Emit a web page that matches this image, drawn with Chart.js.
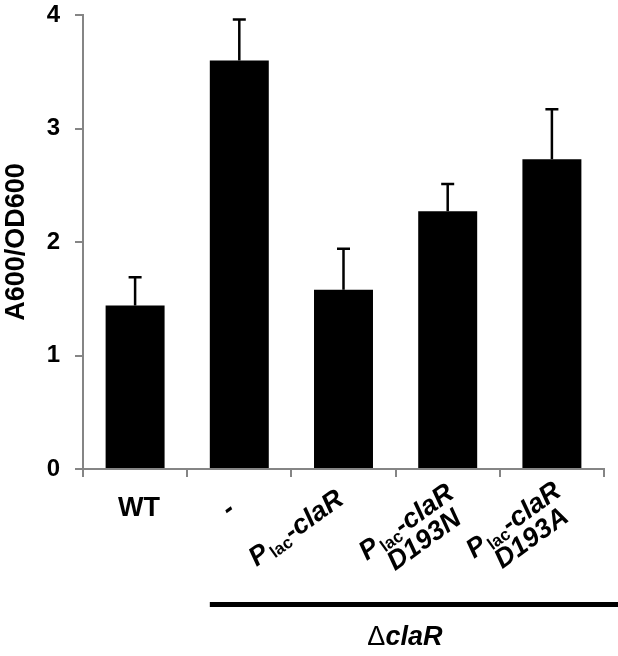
<!DOCTYPE html>
<html>
<head>
<meta charset="utf-8">
<script src="https://cdn.jsdelivr.net/npm/chart.js@4.4.1/dist/chart.umd.min.js"></script>
<style>
  html, body { margin: 0; padding: 0; background: #fff; }
  canvas { display: block; }
</style>
</head>
<body>
<canvas id="chart" width="618" height="656"></canvas>
<script>
// Data
const CATEGORIES = ["WT", "-", "Plac-claR", "Plac-claR D193N", "Plac-claR D193A"];
const MEANS = [1.44, 3.6, 1.58, 2.27, 2.73];
const ERRORS = [0.25, 0.36, 0.36, 0.24, 0.44];
const Y_TICKS = [0, 1, 2, 3, 4];
const Y_TITLE = "A600/OD600";
const GROUP_LABEL = "claR";
const GROUP_FIRST = 1; // first category under the group bar

// Styles
const FONT = "'Liberation Sans', Arial, sans-serif";
const AXIS_GRAY = "#858585";
const LABEL_SIZE = 27;
const ANGLE = (36 * Math.PI) / 180;

// where each label starts (left end of first line, on the baseline), relative to the category centre
const LABEL_ANCHORS = [
  { dx: 4, y: 516, rotate: false },
  { dx: -10, y: 518, rotate: true },
  { dx: -87, y: 567, rotate: true },
  { dx: -81, y: 561, rotate: true },
  { dx: -78, y: 559, rotate: true },
];

function fontFor(seg) {
  if (seg.sub) return `bold 17px ${FONT}`;
  if (seg.plain) return `${LABEL_SIZE}px ${FONT}`;
  return `${seg.italic ? "italic " : ""}bold ${LABEL_SIZE}px ${FONT}`;
}

function segmentsFor(line, italic) {
  if (line.startsWith("Plac")) {
    return [
      { text: "P", italic: true },
      { text: "lac", sub: true },
      { text: line.slice(4), italic: true },
    ];
  }
  return [{ text: line, italic }];
}

function measureSegs(ctx, segs) {
  return segs.reduce((w, s) => {
    ctx.font = fontFor(s);
    return w + ctx.measureText(s.text).width + (s.sub ? 2 : 0);
  }, 0);
}

function drawSegs(ctx, segs, x, y) {
  segs.forEach((s) => {
    ctx.font = fontFor(s);
    ctx.fillText(s.text, s.sub ? x + 2 : x, s.sub ? y + 4 : y);
    x += ctx.measureText(s.text).width + (s.sub ? 2 : 0);
  });
}

const errorBarsPlugin = {
  id: "errorBars",
  afterDatasetsDraw(chart) {
    const { ctx } = chart;
    const yScale = chart.scales.y;
    const meta = chart.getDatasetMeta(0);
    ctx.save();
    ctx.strokeStyle = "#000";
    ctx.lineWidth = 2.5;
    meta.data.forEach((bar, i) => {
      const top = yScale.getPixelForValue(MEANS[i] + ERRORS[i]);
      ctx.beginPath();
      ctx.moveTo(bar.x, bar.y);
      ctx.lineTo(bar.x, top);
      ctx.moveTo(bar.x - 6.5, top);
      ctx.lineTo(bar.x + 6.5, top);
      ctx.stroke();
    });
    ctx.restore();
  },
};

const labelsPlugin = {
  id: "richLabels",
  afterDraw(chart) {
    const { ctx } = chart;
    const xScale = chart.scales.x;
    ctx.save();
    ctx.fillStyle = "#000";
    ctx.textBaseline = "alphabetic";
    ctx.textAlign = "left";

    CATEGORIES.forEach((label, i) => {
      const cx = xScale.getPixelForValue(i);
      const a = LABEL_ANCHORS[i];
      if (!a.rotate) {
        const segs = segmentsFor(label, false);
        const w = measureSegs(ctx, segs);
        drawSegs(ctx, segs, cx + a.dx - w / 2, a.y);
        return;
      }
      const lines = label.split(" ");
      const first = segmentsFor(lines[0], true);
      const w1 = measureSegs(ctx, first);
      ctx.save();
      ctx.translate(cx + a.dx, a.y);
      ctx.rotate(-ANGLE);
      drawSegs(ctx, first, 0, 0);
      if (lines[1]) {
        const second = segmentsFor(lines[1], true);
        const w2 = measureSegs(ctx, second);
        drawSegs(ctx, second, (w1 - w2) / 2 + 4, 25);
      }
      ctx.restore();
    });

    // group bar + label
    const meta = chart.getDatasetMeta(0);
    const firstBar = meta.data[GROUP_FIRST];
    const x0 = firstBar.x - firstBar.width / 2;
    const x1 = chart.width;
    ctx.fillRect(x0, 602, x1 - x0, 5);

    const segs = [
      { text: "\u0394", plain: true },
      { text: GROUP_LABEL, italic: true },
    ];
    const w = measureSegs(ctx, segs);
    drawSegs(ctx, segs, (x0 + x1) / 2 - 9 - w / 2, 645);
    ctx.restore();
  },
};

const chart = new Chart(document.getElementById("chart"), {
  type: "bar",
  data: {
    labels: CATEGORIES,
    datasets: [
      {
        data: MEANS,
        backgroundColor: "#000",
        borderWidth: 0,
        barPercentage: 0.566,
        categoryPercentage: 1,
      },
    ],
  },
  options: {
    responsive: false,
    animation: false,
    layout: { padding: { top: 15, right: 14, left: 0, bottom: 0 } },
    plugins: {
      legend: { display: false },
      tooltip: { enabled: false },
    },
    scales: {
      x: {
        grid: {
          offset: true,
          drawOnChartArea: false,
          tickLength: 8,
          color: AXIS_GRAY,
          lineWidth: 2,
        },
        border: { color: AXIS_GRAY, width: 2 },
        ticks: { display: false },
        afterFit: (scale) => {
          scale.height = 187;
        },
      },
      y: {
        min: Y_TICKS[0],
        max: Y_TICKS[Y_TICKS.length - 1],
        afterBuildTicks: (scale) => {
          scale.ticks = Y_TICKS.map((v) => ({ value: v }));
        },
        ticks: {
          color: "#000",
          padding: 15,
          font: { family: FONT, size: 24, weight: "bold" },
        },
        grid: {
          drawOnChartArea: false,
          tickLength: 8,
          color: AXIS_GRAY,
          lineWidth: 2,
        },
        border: { color: AXIS_GRAY, width: 2 },
        title: {
          display: true,
          text: Y_TITLE,
          color: "#000",
          padding: 0,
          font: { family: FONT, size: 27, weight: "bold" },
        },
        afterFit: (scale) => {
          scale.width = 83;
          scale.paddingTop = 0;
          scale.paddingBottom = 0;
        },
      },
    },
  },
  plugins: [errorBarsPlugin, labelsPlugin],
});
</script>
</body>
</html>
